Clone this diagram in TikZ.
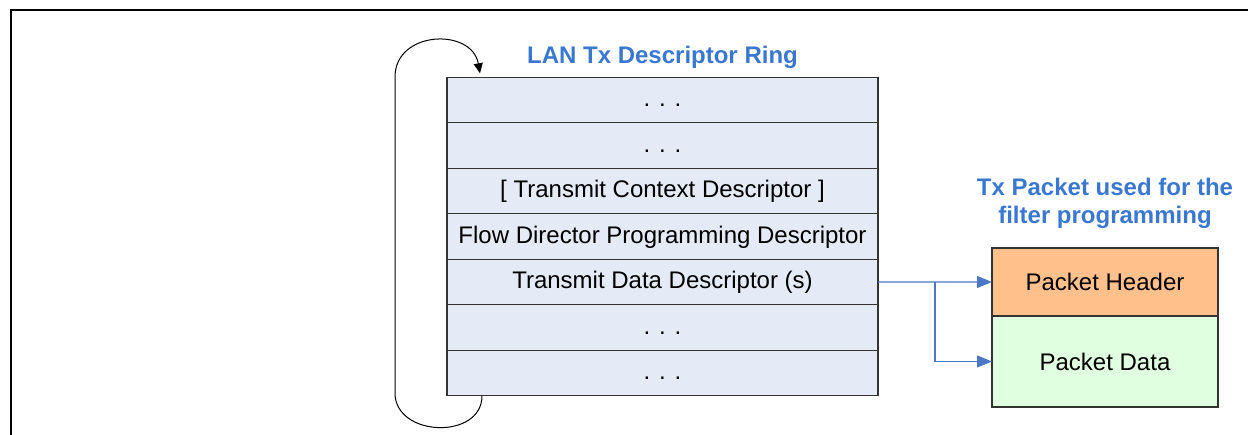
\documentclass[tikz,border=0pt]{standalone}
\usepackage{fontspec}
\setmainfont{Liberation Sans}
\usepackage{xcolor}
\usetikzlibrary{arrows.meta,positioning}
\definecolor{ringfill}{HTML}{E5EBF6}
\definecolor{hdrfill}{HTML}{FFC08C}
\definecolor{datafill}{HTML}{E0FFE0}
\definecolor{titleblue}{HTML}{3A78D0}
\definecolor{arrblue}{HTML}{4A78C6}

\begin{document}
\begin{tikzpicture}[
    x=1pt, y=1pt,
    node distance=0pt,
    every node/.style={font=\fontsize{24}{29}\selectfont},
    ringrow/.style={draw=black!80, line width=1.2pt, fill=ringfill, minimum width=431pt, minimum height=45.5pt, text height=17.5pt, text depth=4pt, inner sep=0pt, outer sep=0pt},
    pktbox/.style={draw=black!80, line width=1.2pt, minimum width=226pt, inner sep=0pt, outer sep=0pt},
    title/.style={text=titleblue, font=\fontsize{24}{28}\selectfont\bfseries, align=center, inner sep=0pt},
    barr/.style={-{Triangle[length=15pt,width=12pt]}, arrblue, line width=1.3pt},
    loop/.style={-{Triangle[length=10pt,width=9pt]}, black, line width=1pt}
]
\useasboundingbox (0,0) rectangle (1248,435);
% frame, cut by the page
\draw[line width=2.5pt] (11,0) -- (11,425) -- (1248,425);

% descriptor ring
\node[ringrow] (r1) at (662.5,334.95) {. . .};
\node[ringrow, below=of r1] (r2) {. . .};
\node[ringrow, below=of r2] (r3) {[ Transmit Context Descriptor ]};
\node[ringrow, below=of r3] (r4) {Flow Director Programming Descriptor};
\node[ringrow, below=of r4] (r5) {Transmit Data Descriptor (s)};
\node[ringrow, below=of r5] (r6) {. . .};
\node[ringrow, below=of r6] (r7) {. . .};
\node[title, above=9pt of r1] (ringtitle) {LAN Tx Descriptor Ring};

% packet
\node[pktbox, fill=hdrfill, minimum height=68pt] (hdr) at (1105,153) {Packet Header};
\node[pktbox, fill=datafill, minimum height=91pt, below=of hdr] (data) {Packet Data};
\node[title, above=19pt of hdr] (pkttitle) {Tx Packet used for the\\filter programming};

\draw[barr] (r5.east) -- (hdr.west);
\draw[barr] ([xshift=57pt]r5.east) |- (data.west);

% wrap around
\draw[loop] ([xshift=35pt]r7.south west) to[out=-90,in=-90,looseness=1.3] (395,42)
    -- (395,358) to[out=90,in=100,looseness=1.4] ([xshift=33pt,yshift=4pt]r1.north west);
\end{tikzpicture}
\end{document}
